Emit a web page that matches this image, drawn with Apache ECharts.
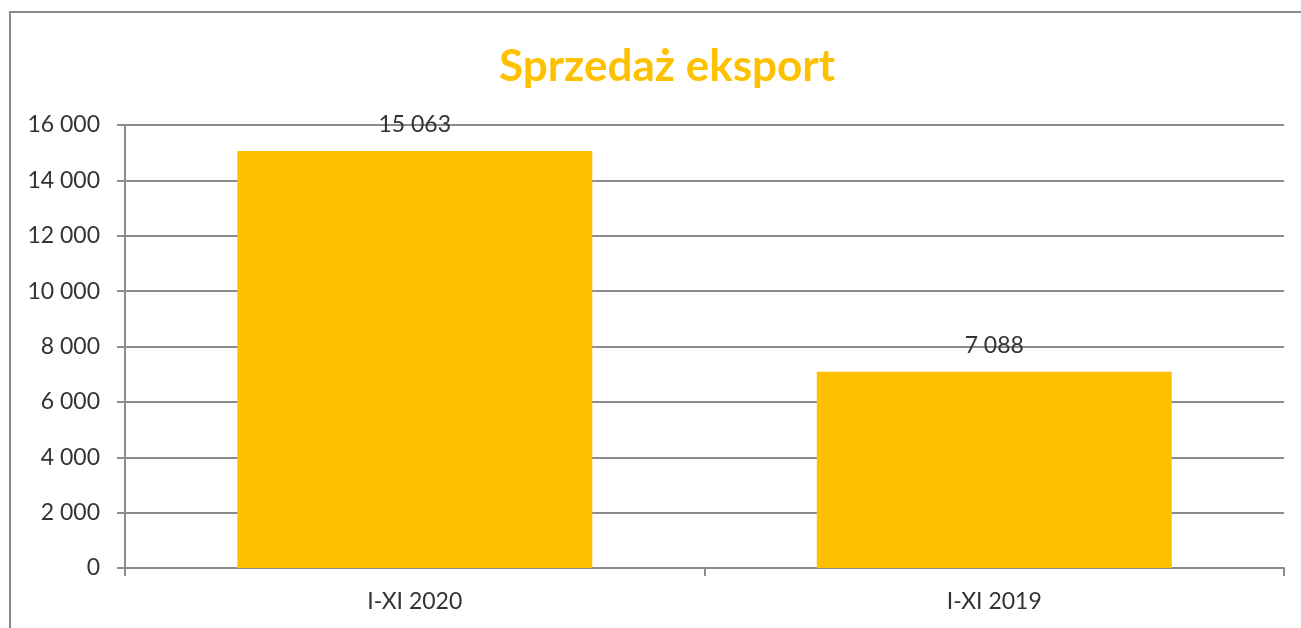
<!DOCTYPE html>
<html>
<head>
<meta charset="utf-8">
<script src="https://cdn.jsdelivr.net/npm/echarts@6/dist/echarts.min.js"></script>
<style>
  html, body { margin: 0; padding: 0; background: #fff; }
  #chart { width: 1301px; height: 628px; }
</style>
</head>
<body>
<div id="chart"></div>
<script>
const categories = ["I-XI 2020", "I-XI 2019"];
const sales = [15063, 7088];
const yTicks = { min: 0, max: 16000, interval: 2000 };

// 12 000 style, spaces as thousands separator
function fmt(v) {
  return String(v).replace(/\B(?=(\d{3})+(?!\d))/g, " ");
}

const chart = echarts.init(document.getElementById("chart"));
chart.setOption({
  backgroundColor: "#fff",
  animation: false,
  textStyle: { fontFamily: "Lato" },
  graphic: [
    {
      type: "rect",
      shape: { x: 10, y: 12, width: 1320, height: 640 },
      style: { fill: "none", stroke: "#8c8c8c", lineWidth: 2 },
      silent: true
    }
  ],
  title: {
    text: "Sprzedaż eksport",
    left: 494,
    top: 40,
    textStyle: {
      fontFamily: "Lato",
      fontSize: 44,
      fontWeight: "bold",
      color: "#FFC000"
    }
  },
  grid: { left: 125, right: 17, top: 125, bottom: 60 },
  xAxis: {
    type: "category",
    data: categories,
    axisLine: { lineStyle: { color: "#8c8c8c", width: 2 } },
    axisTick: { show: true, length: 8, lineStyle: { color: "#8c8c8c", width: 2 } },
    axisLabel: { fontSize: 23, color: "#333", margin: 22 }
  },
  yAxis: {
    type: "value",
    min: yTicks.min,
    max: yTicks.max,
    interval: yTicks.interval,
    axisLine: { show: true, lineStyle: { color: "#8c8c8c", width: 2 } },
    axisTick: { show: true, length: 8, lineStyle: { color: "#8c8c8c", width: 2 } },
    axisLabel: { fontSize: 23, color: "#333", margin: 25, formatter: fmt },
    splitLine: { lineStyle: { color: "#8c8c8c", width: 2 } }
  },
  series: [
    {
      type: "bar",
      data: sales,
      barWidth: 355,
      itemStyle: { color: "#FFC000" },
      label: {
        show: true,
        position: "top",
        distance: 15,
        fontSize: 23,
        color: "#333",
        formatter: p => fmt(p.value)
      }
    }
  ]
});
</script>
</body>
</html>
